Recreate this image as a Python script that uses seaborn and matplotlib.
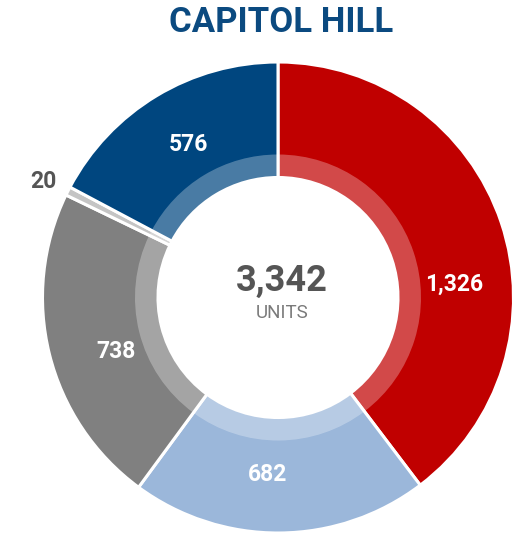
import matplotlib
matplotlib.use("Agg")
import matplotlib.pyplot as plt
import seaborn as sns
import numpy as np

sns.set_theme(style="white")
plt.rcParams['font.family'] = ['Roboto', 'DejaVu Sans']

title = "CAPITOL HILL"
categories = ["A", "B", "C", "D", "E"]
values = [1326, 682, 738, 20, 576]
labels = ["1,326", "682", "738", "20", "576"]
colors = ["#c00000", "#9bb7da", "#808080", "#c4c4c4", "#00467f"]
total_text = "3,342"
unit_text = "UNITS"

# label placement tweaks (degrees offset from mid-angle, radius in px)
label_dang = [-14.2, -3.8, 4.5, 0.5, -0.8]
label_r = [177, 177, 171, 262, 177]

W, H = 512, 536
fig = plt.figure(figsize=(W / 100, H / 100), dpi=100)
ax = fig.add_axes([0, 0, 1, 1])

cx, cy = 278, H - 297.5
R = 235.5
r_in = 120
r_band = 143

ax.pie(values, colors=colors, startangle=90, counterclock=False,
       center=(cx, cy), radius=R, frame=True,
       wedgeprops=dict(width=R - r_in, edgecolor="white", linewidth=2.2))
ax.pie(values, colors=["white"] * len(values), startangle=90, counterclock=False,
       center=(cx, cy), radius=r_band, frame=True,
       wedgeprops=dict(width=r_band - r_in, edgecolor="none", linewidth=0, alpha=0.29))
ax.set_xlim(0, W)
ax.set_ylim(0, H)
ax.set_aspect("equal")
ax.set_axis_off()

tot = sum(values)
ang = 90.0
for v, lab, da, rr in zip(values, labels, label_dang, label_r):
    span = 360.0 * v / tot
    mid = np.deg2rad(ang - span / 2 + da)
    ang -= span
    small = v / tot < 0.02
    ax.text(cx + rr * np.cos(mid), cy + rr * np.sin(mid), lab, ha="center", va="center",
            color="#555555" if small else "white", fontsize=16.5, fontweight="bold")

ax.text(cx + 4, cy + 17, total_text, ha="center", va="center", color="#555555",
        fontsize=26, fontweight="bold")
ax.text(cx + 4, cy - 15, unit_text, ha="center", va="center", color="#7a7a7a",
        fontsize=13.5, fontweight="normal")

fig.text(281 / W, 1 - 22 / H, title, ha="center", va="center", color="#0b4a80",
         fontsize=25, fontweight="bold")

fig.savefig("out.png", dpi=100)
